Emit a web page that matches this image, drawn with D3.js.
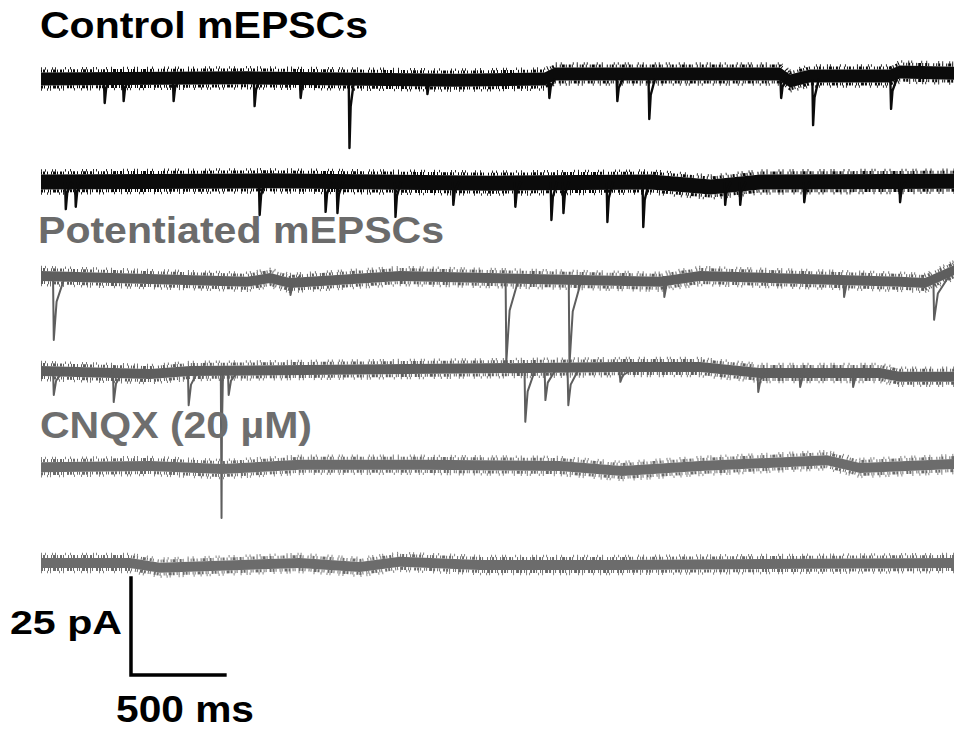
<!DOCTYPE html>
<html>
<head>
<meta charset="utf-8">
<script src="https://cdn.jsdelivr.net/npm/d3@7"></script>
<style>
  html, body { margin: 0; padding: 0; background: #fff; }
  svg { display: block; }
  text { font-family: "Liberation Sans", Arial, sans-serif; font-weight: bold; }
</style>
</head>
<body>
<div id="chart"></div>
<script>
// event lists: [time ms, peak current pA, optional decay ms]
const control1Events = [[335,-6.2],[436,-5.7],[702,-5.7],[1133,-7.0],[1378,-4.9],[1638,-17.8,25],[2053,-3.9],
  [2702,-4.9],[3064,-5.7],[3234,-10.3],[3936,-4.9],[4106,-11.9],[4521,-7.7]];
const control2Events = [[128,-7.0],[181,-6.4],[1160,-8.5],[1511,-7.7],[1574,-8.0],[1883,-9.0],[2191,-5.9],
  [2521,-6.4],[2713,-9.8],[2777,-8.0],[3011,-10.3],[3202,-11.6],[3638,-5.9],[3718,-5.9],[4059,-5.2],[4569,-5.2]];
const pot1Events = [[64,-16.5,60],[1324,-4.9],[2473,-22.2,70],[2809,-22.9,70],[3314,-5.4],[4271,-5.4],[4750,-11.3,80]];
const pot2Events = [[64,-6.2],[383,-8.0],[782,-8.8],[957,-37.9,8],[995,-6.2],[2574,-13.1],[2681,-7.5],
  [2803,-8.8],[3080,-2.8],[3814,-5.4],[4037,-4.1],[4319,-4.1]];
const cnqx1Events = [];
const cnqx2Events = [];

// slow baseline drift: [time ms, offset pA]
const control1Drift = [[0,0],[1100,0.3],[2200,-0.3],[2681,0],[2734,1.3],[3934,1.3],[3987,-0.5],[4093,0.8],[4519,0.8],[4572,1.8],[4860,1.5]];
const control2Drift = [[0,0],[1200,0.3],[2400,-0.3],[3245,0],[3564,-1.3],[3830,0],[4860,0.2]];
const pot1Drift = [[0,0],[1097,-1.5],[1219,-0.5],[1325,-1.8],[1911,0],[3295,-1.5],[3508,0],[4573,-1.5],[4706,-1.8],[4860,1.5]];
const pot2Drift = [[0,0],[580,-0.8],[793,0],[3082,1],[3508,1],[3827,-0.5],[4466,-0.5],[4572,-1.5],[4860,-1.5]];
const cnqx1Drift = [[0,-0.3],[580,0],[963,-0.8],[1378,0.3],[2016,0.3],[2761,0],[3093,-1.3],[3508,0],[4184,1.5],[4360,-0.5],[4860,0.5]];
const cnqx2Drift = [[0,0],[473,0],[633,-1.2],[1378,0],[1697,-1],[1910,0.3],[2335,-0.5],[3080,-0.5],[4860,0]];

const sweepLabels = ['Control mEPSCs', 'Potentiated mEPSCs', 'CNQX (20 \u00b5M)'];
const scaleBarTime = 500;   // ms
const scaleBarCurrent = 25; // pA
const sweepDuration = 4860; // ms

const width = 954;
const height = 732;

const svg = d3.select('#chart')
  .append('svg')
  .attr('width', width)
  .attr('height', height);

// scales
const xScale = d3.scaleLinear().domain([0, sweepDuration]).range([41, 954]);
const yScale = d3.scaleLinear().domain([0, -25]).range([0, 97]);

const traces = [
  { events: control1Events, drift: control1Drift, row: 79,  color: '#0b0b0b', band: 13, stroke: 2.4, decay: 30 },
  { events: control2Events, drift: control2Drift, row: 182, color: '#0b0b0b', band: 15, stroke: 2.4, decay: 30 },
  { events: pot1Events,     drift: pot1Drift,     row: 276, color: '#5e5e5e', band: 10, stroke: 2,   decay: 50 },
  { events: pot2Events,     drift: pot2Drift,     row: 371, color: '#5e5e5e', band: 10, stroke: 2,   decay: 50 },
  { events: cnqx1Events,    drift: cnqx1Drift,    row: 466, color: '#6c6c6c', band: 10, stroke: 2,   decay: 50 },
  { events: cnqx2Events,    drift: cnqx2Drift,    row: 563, color: '#6c6c6c', band: 10, stroke: 2,   decay: 50 }
];

const line = d3.line()
  .x(d => xScale(d[0]))
  .y(d => yScale(d[1]));

// ragged edges: dashed strokes hugging both sides of the band
const edgeDash = ['1,1,2,2,1,3,1,1,3,1,1,2,2,1,1,4,1,2', '2,1,1,3,1,1,1,2,3,1,2,2,1,1,1,3,2,1'];
const hairDash = ['1,3,1,6,1,2,1,9,1,4,1,11', '1,5,1,2,1,8,1,3,1,10,1,6'];

traces.forEach(tr => {
  const g = svg.append('g')
    .attr('transform', `translate(0, ${tr.row})`);

  // baseline noise band (filled area around the drifting baseline)
  const band = d3.area()
    .x(d => xScale(d[0]))
    .y0(d => yScale(d[1]) - tr.band / 2)
    .y1(d => yScale(d[1]) + tr.band / 2);

  g.append('path')
    .datum(tr.drift)
    .attr('d', band)
    .attr('fill', tr.color);

  [-1, 1].forEach((side, i) => {
    g.append('path')
      .datum(tr.drift)
      .attr('d', line)
      .attr('transform', `translate(0, ${side * (tr.band / 2 + 1.5)})`)
      .attr('fill', 'none')
      .attr('stroke', tr.color)
      .attr('stroke-width', 3)
      .attr('stroke-dasharray', edgeDash[i]);
    g.append('path')
      .datum(tr.drift)
      .attr('d', line)
      .attr('transform', `translate(0, ${side * (tr.band / 2 + 4)})`)
      .attr('fill', 'none')
      .attr('stroke', tr.color)
      .attr('stroke-width', 2.5)
      .attr('stroke-dasharray', hairDash[i])
      .attr('opacity', 0.85);
  });

  // miniature events
  g.selectAll('path.event')
    .data(tr.events)
    .enter()
    .append('path')
    .attr('class', 'event')
    .attr('d', e => {
      const t = e[0], a = e[1], dec = e[2] || tr.decay;
      return line([[t, 0], [t + 4, a], [t + 4 + dec * 0.25, a * 0.4], [t + 4 + dec, 0]]);
    })
    .attr('fill', 'none')
    .attr('stroke', tr.color)
    .attr('stroke-width', tr.stroke)
    .attr('stroke-linejoin', 'round');
});

// labels
const labelSpec = [
  { text: sweepLabels[0], x: 40, y: 38,  len: 328, color: '#000' },
  { text: sweepLabels[1], x: 38, y: 243, len: 406, color: '#6b6b6b' },
  { text: sweepLabels[2], x: 40, y: 438, len: 272, color: '#6e6e6e' }
];
svg.selectAll('text.label')
  .data(labelSpec)
  .enter()
  .append('text')
  .attr('class', 'label')
  .attr('x', d => d.x)
  .attr('y', d => d.y)
  .attr('textLength', d => d.len)
  .attr('lengthAdjust', 'spacingAndGlyphs')
  .attr('font-size', 36)
  .attr('fill', d => d.color)
  .text(d => d.text);

// scale bar (current axis points upward)
const barT0 = 479;
const barY0 = 675;
const bar = svg.append('g')
  .attr('transform', `translate(0, ${barY0})`);
bar.append('path')
  .attr('d', line([[barT0, scaleBarCurrent], [barT0, 0], [barT0 + scaleBarTime, 0]]))
  .attr('fill', 'none')
  .attr('stroke', '#000')
  .attr('stroke-width', 3.5)
  .attr('stroke-linecap', 'square');

svg.append('text')
  .attr('x', 10)
  .attr('y', 634)
  .attr('textLength', 112)
  .attr('lengthAdjust', 'spacingAndGlyphs')
  .attr('font-size', 34)
  .text(scaleBarCurrent + ' pA');

svg.append('text')
  .attr('x', 116)
  .attr('y', 722)
  .attr('textLength', 138)
  .attr('lengthAdjust', 'spacingAndGlyphs')
  .attr('font-size', 37)
  .text(scaleBarTime + ' ms');
</script>
</body>
</html>
